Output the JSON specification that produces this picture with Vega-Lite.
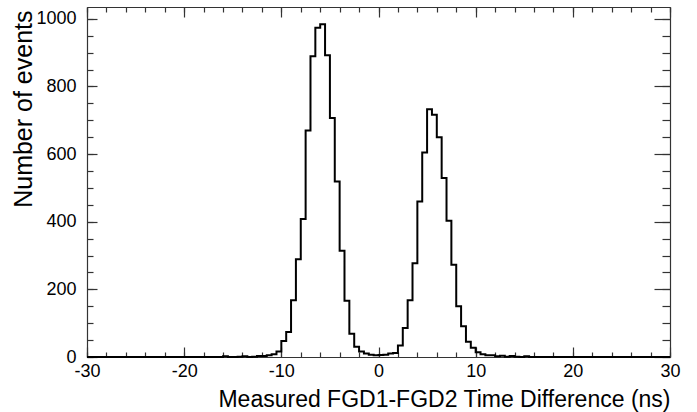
{
  "$schema": "https://vega.github.io/schema/vega-lite/v6.json",
  "width": 583,
  "height": 350,
  "autosize": "none",
  "padding": {"left": 87, "top": 7, "right": 27, "bottom": 55},
  "background": "white",
  "config": {
    "view": {"stroke": null},
    "axis": {
      "labelFont": "Liberation Sans",
      "titleFont": "Liberation Sans",
      "labelColor": "black",
      "titleColor": "black",
      "titleFontWeight": "normal",
      "domainColor": "#333333",
      "tickColor": "#333333",
      "domainWidth": 1.2,
      "tickWidth": 1.2,
      "grid": false
    }
  },
  "data": {
    "values": [
      {"t": -30, "n": 0}, {"t": -29.5, "n": 0}, {"t": -29, "n": 0}, {"t": -28.5, "n": 0}, {"t": -28, "n": 0}, {"t": -27.5, "n": 0},
      {"t": -27, "n": 0}, {"t": -26.5, "n": 0}, {"t": -26, "n": 0}, {"t": -25.5, "n": 0}, {"t": -25, "n": 0}, {"t": -24.5, "n": 0},
      {"t": -24, "n": 0}, {"t": -23.5, "n": 0}, {"t": -23, "n": 0}, {"t": -22.5, "n": 0}, {"t": -22, "n": 0}, {"t": -21.5, "n": 0},
      {"t": -21, "n": 0}, {"t": -20.5, "n": 0}, {"t": -20, "n": 0}, {"t": -19.5, "n": 0}, {"t": -19, "n": 0}, {"t": -18.5, "n": 0},
      {"t": -18, "n": 0}, {"t": -17.5, "n": 0}, {"t": -17, "n": 0}, {"t": -16.5, "n": 0}, {"t": -16, "n": 2}, {"t": -15.5, "n": 0},
      {"t": -15, "n": 0}, {"t": -14.5, "n": 1}, {"t": -14, "n": 2}, {"t": -13.5, "n": 0}, {"t": -13, "n": 1}, {"t": -12.5, "n": 3},
      {"t": -12, "n": 3}, {"t": -11.5, "n": 5}, {"t": -11, "n": 8}, {"t": -10.5, "n": 16}, {"t": -10, "n": 47}, {"t": -9.5, "n": 74},
      {"t": -9, "n": 168}, {"t": -8.5, "n": 289}, {"t": -8, "n": 408}, {"t": -7.5, "n": 670}, {"t": -7, "n": 889}, {"t": -6.5, "n": 974},
      {"t": -6, "n": 984}, {"t": -5.5, "n": 892}, {"t": -5, "n": 707}, {"t": -4.5, "n": 519}, {"t": -4, "n": 314}, {"t": -3.5, "n": 166},
      {"t": -3, "n": 69}, {"t": -2.5, "n": 30}, {"t": -2, "n": 16}, {"t": -1.5, "n": 10}, {"t": -1, "n": 7}, {"t": -0.5, "n": 5},
      {"t": 0, "n": 6}, {"t": 0.5, "n": 7}, {"t": 1, "n": 10}, {"t": 1.5, "n": 12}, {"t": 2, "n": 34}, {"t": 2.5, "n": 86},
      {"t": 3, "n": 168}, {"t": 3.5, "n": 277}, {"t": 4, "n": 460}, {"t": 4.5, "n": 605}, {"t": 5, "n": 733}, {"t": 5.5, "n": 716},
      {"t": 6, "n": 650}, {"t": 6.5, "n": 529}, {"t": 7, "n": 403}, {"t": 7.5, "n": 273}, {"t": 8, "n": 150}, {"t": 8.5, "n": 91},
      {"t": 9, "n": 45}, {"t": 9.5, "n": 27}, {"t": 10, "n": 14}, {"t": 10.5, "n": 8}, {"t": 11, "n": 5}, {"t": 11.5, "n": 5},
      {"t": 12, "n": 2}, {"t": 12.5, "n": 4}, {"t": 13, "n": 1}, {"t": 13.5, "n": 3}, {"t": 14, "n": 1}, {"t": 14.5, "n": 0},
      {"t": 15, "n": 2}, {"t": 15.5, "n": 0}, {"t": 16, "n": 0}, {"t": 16.5, "n": 0}, {"t": 17, "n": 0}, {"t": 17.5, "n": 0},
      {"t": 18, "n": 0}, {"t": 18.5, "n": 0}, {"t": 19, "n": 0}, {"t": 19.5, "n": 0}, {"t": 20, "n": 0}, {"t": 20.5, "n": 0},
      {"t": 21, "n": 0}, {"t": 21.5, "n": 0}, {"t": 22, "n": 0}, {"t": 22.5, "n": 0}, {"t": 23, "n": 0}, {"t": 23.5, "n": 0},
      {"t": 24, "n": 0}, {"t": 24.5, "n": 0}, {"t": 25, "n": 0}, {"t": 25.5, "n": 0}, {"t": 26, "n": 0}, {"t": 26.5, "n": 0},
      {"t": 27, "n": 0}, {"t": 27.5, "n": 0}, {"t": 28, "n": 0}, {"t": 28.5, "n": 0}, {"t": 29, "n": 0}, {"t": 29.5, "n": 0},
      {"t": 30, "n": 0}
    ]
  },
  "resolve": {"axis": {"x": "independent", "y": "independent"}},
  "layer": [
    {
      "mark": {"type": "line", "strokeOpacity": 0},
      "encoding": {
        "x": {"field": "t", "type": "quantitative", "scale": {"domain": [-30, 30], "nice": false, "zero": false},
          "axis": {"orient": "bottom", "values": [-30,-28,-26,-24,-22,-20,-18,-16,-14,-12,-10,-8,-6,-4,-2,0,2,4,6,8,10,12,14,16,18,20,22,24,26,28,30], "tickSize": -5, "labels": false, "domain": false, "title": null}},
        "y": {"field": "n", "type": "quantitative", "scale": {"domain": [0, 1035], "nice": false},
          "axis": {"orient": "left", "values": [0,50,100,150,200,250,300,350,400,450,500,550,600,650,700,750,800,850,900,950,1000], "tickSize": -6, "labels": false, "domain": false, "title": null}}
      }
    },
    {
      "mark": {"type": "line", "strokeOpacity": 0},
      "encoding": {
        "x": {"field": "t", "type": "quantitative",
          "axis": {"orient": "top", "values": [-30,-28,-26,-24,-22,-20,-18,-16,-14,-12,-10,-8,-6,-4,-2,0,2,4,6,8,10,12,14,16,18,20,22,24,26,28,30], "tickSize": -5, "labels": false, "domain": false, "title": null}},
        "y": {"field": "n", "type": "quantitative",
          "axis": {"orient": "right", "values": [0,50,100,150,200,250,300,350,400,450,500,550,600,650,700,750,800,850,900,950,1000], "tickSize": -8, "labels": false, "domain": false, "title": null}}
      }
    },
    {
      "mark": {"type": "line", "strokeOpacity": 0},
      "encoding": {
        "x": {"field": "t", "type": "quantitative",
          "axis": {"orient": "top", "values": [-30,-20,-10,0,10,20,30], "tickSize": -10, "labels": false, "domain": true, "title": null}},
        "y": {"field": "n", "type": "quantitative",
          "axis": {"orient": "right", "values": [0,200,400,600,800,1000], "tickSize": -16, "labels": false, "domain": true, "title": null}}
      }
    },
    {
      "mark": {"type": "line", "interpolate": "step-after", "color": "black", "strokeWidth": 2},
      "encoding": {
        "x": {"field": "t", "type": "quantitative",
          "axis": {"orient": "bottom", "values": [-30,-20,-10,0,10,20,30], "tickSize": -10, "labelFontSize": 18, "labelPadding": 15, "labelFlush": false,
            "labelExpr": "'' + datum.value",
            "title": "Measured FGD1-FGD2 Time Difference (ns)", "titleFontSize": 23, "titleAnchor": "end", "titleAlign": "right", "titleBaseline": "alphabetic", "titleX": 583, "titleY": 49}},
        "y": {"field": "n", "type": "quantitative",
          "axis": {"orient": "left", "values": [0,200,400,600,800,1000], "tickSize": -10, "labelFontSize": 18, "labelPadding": 21, "labelFlush": false,
            "labelExpr": "'' + datum.value",
            "title": "Number of events", "titleFontSize": 25, "titleAngle": -90, "titleAnchor": "end", "titleAlign": "right", "titleBaseline": "alphabetic", "titleX": -56, "titleY": 3}}
      }
    }
  ]
}
